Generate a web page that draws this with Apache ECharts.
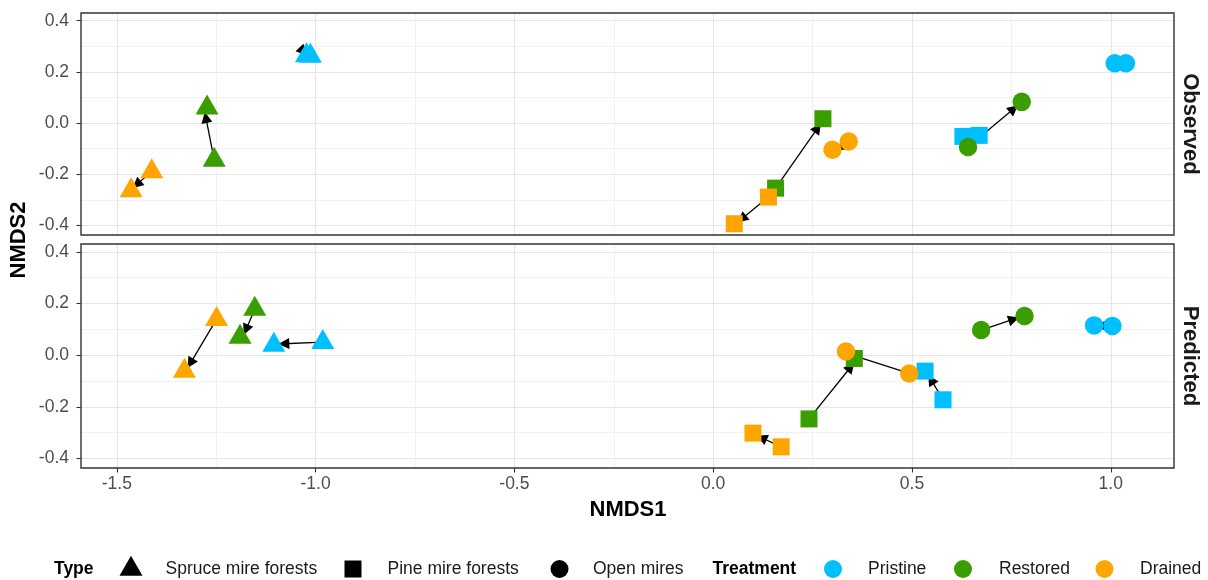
<!DOCTYPE html>
<html><head><meta charset="utf-8">
<script src="https://cdn.jsdelivr.net/npm/echarts@6/dist/echarts.min.js"></script>
<style>html,body{margin:0;padding:0;background:#fff}#c{width:1208px;height:580px}</style>
</head><body><div id="c"></div>
<script>
// ---------------- DATA ----------------
const panels = ['Observed', 'Predicted'];
const treatments = ['Pristine', 'Restored', 'Drained'];
const types = ['Spruce mire forests', 'Pine mire forests', 'Open mires'];
const xTicks = [-1.5, -1.0, -0.5, 0.0, 0.5, 1.0];
const yTicks = [-0.4, -0.2, 0.0, 0.2, 0.4];

// points: [NMDS1, NMDS2, type index (0 spruce, 1 pine, 2 open)]
const observedPristine = [[-1.023, 0.264, 0], [-1.013, 0.262, 0], [0.628, -0.052, 1], [0.669, -0.048, 1], [1.010, 0.234, 2], [1.038, 0.234, 2]];
const observedRestored = [[-1.273, 0.060, 0], [-1.255, -0.144, 0], [0.276, 0.017, 1], [0.157, -0.254, 1], [0.641, -0.093, 2], [0.776, 0.083, 2]];
const observedDrained  = [[-1.412, -0.189, 0], [-1.464, -0.263, 0], [0.139, -0.289, 1], [0.053, -0.393, 1], [0.300, -0.104, 2], [0.341, -0.072, 2]];

const predictedPristine = [[-1.105, 0.039, 0], [-0.982, 0.050, 0], [0.533, -0.062, 1], [0.578, -0.173, 1], [0.958, 0.115, 2], [1.004, 0.113, 2]];
const predictedRestored = [[-1.153, 0.178, 0], [-1.190, 0.070, 0], [0.241, -0.247, 1], [0.355, -0.013, 1], [0.674, 0.097, 2], [0.783, 0.151, 2]];
const predictedDrained  = [[-1.249, 0.139, 0], [-1.330, -0.062, 0], [0.100, -0.302, 1], [0.171, -0.355, 1], [0.334, 0.014, 2], [0.493, -0.071, 2]];

// arrows: [x from, y from, x to, y to]
const observedArrows = [
  [-1.412, -0.189, -1.450, -0.240],
  [-1.255, -0.144, -1.276, 0.022],
  [-1.039, 0.293, -1.031, 0.280],
  [0.157, -0.254, 0.263, -0.019],
  [0.139, -0.289, 0.072, -0.374],
  [0.341, -0.072, 0.321, -0.096],
  [0.641, -0.093, 0.756, 0.056]
];
const predictedArrows = [
  [-1.249, 0.139, -1.315, -0.032],
  [-1.153, 0.178, -1.175, 0.098],
  [-0.982, 0.050, -1.080, 0.044],
  [0.171, -0.355, 0.122, -0.320],
  [0.241, -0.247, 0.346, -0.046],
  [0.493, -0.071, 0.350, 0.000],
  [0.578, -0.173, 0.548, -0.095],
  [0.674, 0.097, 0.756, 0.139],
  [1.004, 0.113, 0.975, 0.114]
];

const panelPoints = [[observedPristine, observedRestored, observedDrained], [predictedPristine, predictedRestored, predictedDrained]];
const panelArrows = [observedArrows, predictedArrows];

// ---------------- STYLE ----------------
const FONT = '"Liberation Sans", Arial, Helvetica, sans-serif';
const treatmentColors = ['#00BFFF', '#3A9E00', '#FFA500'];
const typeSymbols = [
  { symbol: 'triangle', symbolSize: [23, 20], symbolOffset: [0, -3.3] },
  { symbol: 'rect', symbolSize: 17, symbolOffset: [0, 0] },
  { symbol: 'circle', symbolSize: 18.5, symbolOffset: [0, 0] }
];
const gridsPx = [
  { left: 81, top: 13, width: 1093, height: 222 },
  { left: 81, top: 244, width: 1093, height: 224 }
];
const X_MIN = -1.59, X_MAX = 1.159, Y_MIN = -0.437, Y_MAX = 0.430;

const chart = echarts.init(document.getElementById('c'), null, { renderer: 'canvas' });

const grid = gridsPx.map(g => ({
  left: g.left, top: g.top, width: g.width, height: g.height,
  show: true, borderColor: '#333333', borderWidth: 1.4,
  backgroundColor: 'transparent', z: 10
}));

const gridLine = { show: true, lineStyle: { color: '#e6e6e6', width: 1.1 } };
const minorLine = { show: true, lineStyle: { color: '#ebebeb', width: 0.7 } };

const xAxis = panels.map((p, i) => ({
  type: 'value', gridIndex: i, min: X_MIN, max: X_MAX, position: 'bottom',
  axisLine: { show: false, onZero: false },
  axisTick: { show: i === 1, customValues: xTicks, length: 4.5, lineStyle: { color: '#333333', width: 1.1 } },
  axisLabel: {
    show: i === 1, customValues: xTicks, margin: 7,
    formatter: v => v.toFixed(1), color: '#4d4d4d', fontSize: 17.5, fontFamily: FONT
  },
  splitLine: gridLine,
  minorTick: { show: false, splitNumber: 2 },
  minorSplitLine: minorLine
}));

const yAxis = panels.map((p, i) => ({
  type: 'value', gridIndex: i, min: Y_MIN, max: Y_MAX, position: 'left',
  axisLine: { show: false, onZero: false },
  axisTick: { show: true, customValues: yTicks, length: 4.5, lineStyle: { color: '#333333', width: 1.1 } },
  axisLabel: {
    show: true, customValues: yTicks, margin: 12,
    formatter: v => v.toFixed(1), color: '#4d4d4d', fontSize: 17.5, fontFamily: FONT
  },
  splitLine: gridLine,
  minorTick: { show: false, splitNumber: 2 },
  minorSplitLine: minorLine
}));

const series = [];
panels.forEach((p, pi) => {
  series.push({
    type: 'lines', name: p + ' arrows', coordinateSystem: 'cartesian2d',
    xAxisIndex: pi, yAxisIndex: pi, z: 2, silent: true,
    symbol: ['none', 'triangle'], symbolSize: [10, 11],
    lineStyle: { color: '#000000', width: 1.3, opacity: 1 },
    data: panelArrows[pi].map(a => ({ coords: [[a[0], a[1]], [a[2], a[3]]] }))
  });
  treatments.forEach((t, ti) => {
    series.push({
      type: 'scatter', name: t, xAxisIndex: pi, yAxisIndex: pi, z: 3, silent: true,
      itemStyle: { color: treatmentColors[ti], opacity: 1 },
      data: panelPoints[pi][ti].map(d => Object.assign({ value: [d[0], d[1]] }, typeSymbols[d[2]]))
    });
  });
});

// ---------------- TEXT / LEGEND ----------------
const LY = 569;
const graphic = [
  { type: 'text', x: 1190, y: gridsPx[0].top + gridsPx[0].height / 2, rotation: -Math.PI / 2,
    style: { text: panels[0], font: 'bold 22px ' + FONT, fill: '#1a1a1a', align: 'center', verticalAlign: 'middle' } },
  { type: 'text', x: 1190, y: gridsPx[1].top + gridsPx[1].height / 2, rotation: -Math.PI / 2,
    style: { text: panels[1], font: 'bold 22px ' + FONT, fill: '#1a1a1a', align: 'center', verticalAlign: 'middle' } },
  { type: 'text', x: 19, y: 240, rotation: Math.PI / 2,
    style: { text: 'NMDS2', font: 'bold 22px ' + FONT, fill: '#000', align: 'center', verticalAlign: 'middle' } },
  { type: 'text', x: 628, y: 510,
    style: { text: 'NMDS1', font: 'bold 22px ' + FONT, fill: '#000', align: 'center', verticalAlign: 'middle' } },
  // legend: Type
  { type: 'text', x: 54, y: LY, style: { text: 'Type', font: 'bold 17.5px ' + FONT, fill: '#000', align: 'left', verticalAlign: 'middle' } },
  { type: 'polygon', shape: { points: [[119.5, LY + 6.7], [142.5, LY + 6.7], [131, LY - 13.3]] }, style: { fill: '#000' } },
  { type: 'text', x: 165.5, y: LY, style: { text: types[0], font: '17.5px ' + FONT, fill: '#1a1a1a', align: 'left', verticalAlign: 'middle' } },
  { type: 'rect', shape: { x: 344.5, y: LY - 8.5, width: 17, height: 17 }, style: { fill: '#000' } },
  { type: 'text', x: 387.5, y: LY, style: { text: types[1], font: '17.5px ' + FONT, fill: '#1a1a1a', align: 'left', verticalAlign: 'middle' } },
  { type: 'circle', shape: { cx: 559.5, cy: LY, r: 9 }, style: { fill: '#000' } },
  { type: 'text', x: 593, y: LY, style: { text: types[2], font: '17.5px ' + FONT, fill: '#1a1a1a', align: 'left', verticalAlign: 'middle' } },
  // legend: Treatment
  { type: 'text', x: 712.5, y: LY, style: { text: 'Treatment', font: 'bold 17.5px ' + FONT, fill: '#000', align: 'left', verticalAlign: 'middle' } },
  { type: 'circle', shape: { cx: 833, cy: LY, r: 9 }, style: { fill: treatmentColors[0] } },
  { type: 'text', x: 868, y: LY, style: { text: treatments[0], font: '17.5px ' + FONT, fill: '#1a1a1a', align: 'left', verticalAlign: 'middle' } },
  { type: 'circle', shape: { cx: 963, cy: LY, r: 9 }, style: { fill: treatmentColors[1] } },
  { type: 'text', x: 999, y: LY, style: { text: treatments[1], font: '17.5px ' + FONT, fill: '#1a1a1a', align: 'left', verticalAlign: 'middle' } },
  { type: 'circle', shape: { cx: 1104.5, cy: LY, r: 9 }, style: { fill: treatmentColors[2] } },
  { type: 'text', x: 1140, y: LY, style: { text: treatments[2], font: '17.5px ' + FONT, fill: '#1a1a1a', align: 'left', verticalAlign: 'middle' } }
];

chart.setOption({
  animation: false,
  backgroundColor: '#ffffff',
  grid, xAxis, yAxis, series, graphic
});
</script>
</body></html>
